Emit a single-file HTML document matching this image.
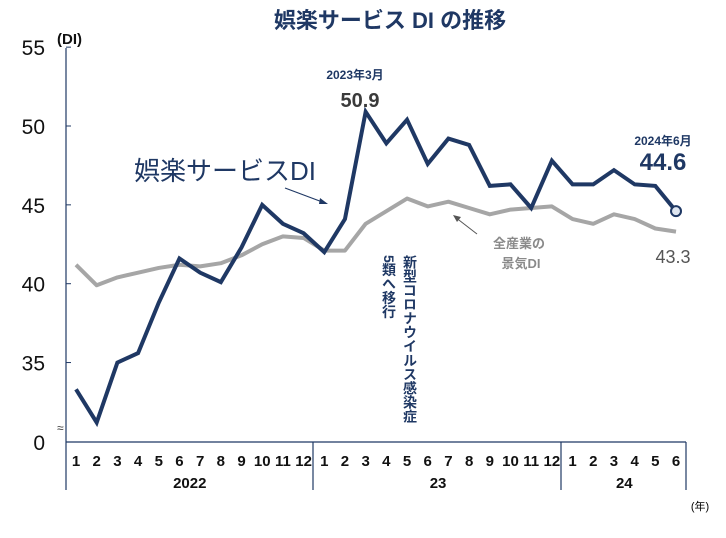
<!DOCTYPE html>
<html><head><meta charset="utf-8"><style>
body{margin:0;background:#fff;width:726px;height:533px;overflow:hidden;font-family:"Liberation Sans","Noto Sans CJK JP",sans-serif}
</style></head><body>
<svg id="c" width="726" height="533" xmlns="http://www.w3.org/2000/svg" font-family="Liberation Sans, Noto Sans CJK JP, sans-serif">
<text x="390" y="28" text-anchor="middle" font-size="22" font-weight="bold" fill="#1f3864">娯楽サービス DI の推移</text>
<g id="axes"></g>
<g id="marks"></g>
<text x="316" y="180" text-anchor="end" font-size="26" fill="#1f3864">娯楽サービスDI</text>
<line x1="285" y1="188" x2="325" y2="203" stroke="#1f3864" stroke-width="1.2"/>
<path d="M328,204 l-8,-6 l-1,6 z" fill="#1f3864"/>
<text x="519" y="248" text-anchor="middle" font-size="13" font-weight="bold" fill="#8a8a8a">全産業の</text>
<text x="521" y="268" text-anchor="middle" font-size="13" font-weight="bold" fill="#8a8a8a">景気DI</text>
<line x1="477" y1="234" x2="455" y2="217" stroke="#555" stroke-width="1"/>
<path d="M453,215 l8,2 l-4,5 z" fill="#555"/>
<text x="355" y="79" text-anchor="middle" font-size="12" font-weight="bold" fill="#1f3864">2023年3月</text>
<text x="360" y="107" text-anchor="middle" font-size="20" font-weight="bold" fill="#3a3a3a">50.9</text>
<text x="663" y="145" text-anchor="middle" font-size="12" font-weight="bold" fill="#1f3864">2024年6月</text>
<text x="663" y="170" text-anchor="middle" font-size="24" font-weight="bold" fill="#1f3864">44.6</text>
<text x="673" y="263" text-anchor="middle" font-size="18" fill="#555">43.3</text>
<text font-size="14" font-weight="bold" fill="#1f3864" style="writing-mode:vertical-rl" x="410" y="255">新型コロナウイルス感染症</text>
<text font-size="14" font-weight="bold" fill="#1f3864" style="writing-mode:vertical-rl" x="389" y="255">5類へ移行</text>
<text x="700" y="510" text-anchor="middle" font-size="11" fill="#000">(年)</text>
</svg>
<script>
const months=["1","2","3","4","5","6","7","8","9","10","11","12","1","2","3","4","5","6","7","8","9","10","11","12","1","2","3","4","5","6"];
const years=["2022","23","24"];
const yTicks=[35,40,45,50,55];
const entertainment=[33.3,31.2,35.0,35.6,38.8,41.6,40.7,40.1,42.3,45.0,43.8,43.2,42.0,44.1,50.9,48.9,50.4,47.6,49.2,48.8,46.2,46.3,44.8,47.8,46.3,46.3,47.2,46.3,46.2,44.6];
const allIndustry=[41.2,39.9,40.4,40.7,41.0,41.2,41.1,41.3,41.8,42.5,43.0,42.9,42.1,42.1,43.8,44.6,45.4,44.9,45.2,44.8,44.4,44.7,44.8,44.9,44.1,43.8,44.4,44.1,43.5,43.3];
const NS="http://www.w3.org/2000/svg";
const x=i=>76+i*20.69;
const y=v=>126+(50-v)*15.77;
function mk(p,tag,attrs,txt){const e=document.createElementNS(NS,tag);for(const k in attrs)e.setAttribute(k,attrs[k]);if(txt!==undefined)e.textContent=txt;p.appendChild(e);return e;}
const ax=document.getElementById('axes'),mg=document.getElementById('marks');
let e=mk(ax,'line',{x1:66,y1:48,x2:66,y2:490,stroke:'#1f3864','stroke-width':1.2});


e=mk(ax,'line',{x1:66,y1:442,x2:686,y2:442,stroke:'#1f3864','stroke-width':1.2});


yTicks.forEach(t=>{
 const l=mk(ax,'line',{x1:66,y1:y(t),x2:71,y2:y(t),stroke:'#1f3864'});
 
 
 const tx=mk(ax,'text',{x:45,y:y(t)+8,'text-anchor':'end','font-size':21,fill:'#111'},String(t));
 
 
});
e=mk(ax,'text',{x:45,y:450,'text-anchor':'end','font-size':21,fill:'#111'},'0');


e=mk(ax,'text',{x:57,y:44,'font-size':15,'font-weight':'bold',fill:'#111'},'(DI)');


e=mk(ax,'text',{x:57,y:432,'font-size':12,fill:'#333'},'≈');


[313,561,686].forEach(d=>{const l=mk(ax,'line',{x1:d,y1:442,x2:d,y2:490,stroke:'#1f3864','stroke-width':1.2});
 
 });
months.forEach((m,i)=>{const t=mk(ax,'text',{x:x(i),y:466,'text-anchor':'middle','font-size':15,'font-weight':'bold',fill:'#111'},m);
 
 });
const yc=[(x(0)+x(11))/2,(x(12)+x(23))/2,(x(24)+x(29))/2];
years.forEach((yr,i)=>{const t=mk(ax,'text',{x:yc[i],y:488,'text-anchor':'middle','font-size':15,'font-weight':'bold',fill:'#111'},yr);
 
 });
const p1=mk(mg,'polyline',{points:allIndustry.map((v,i)=>x(i)+','+y(v)).join(' '),fill:'none',stroke:'#a6a6a6','stroke-width':4,'stroke-linejoin':'round'});


const p2=mk(mg,'polyline',{points:entertainment.map((v,i)=>x(i)+','+y(v)).join(' '),fill:'none',stroke:'#1f3864','stroke-width':4,'stroke-linejoin':'miter'});


const n=entertainment.length-1;
const c=mk(mg,'circle',{cx:x(n),cy:y(entertainment[n]),r:5,fill:'#dfe6f0',stroke:'#1f3864','stroke-width':2});


</script>
</body></html>
